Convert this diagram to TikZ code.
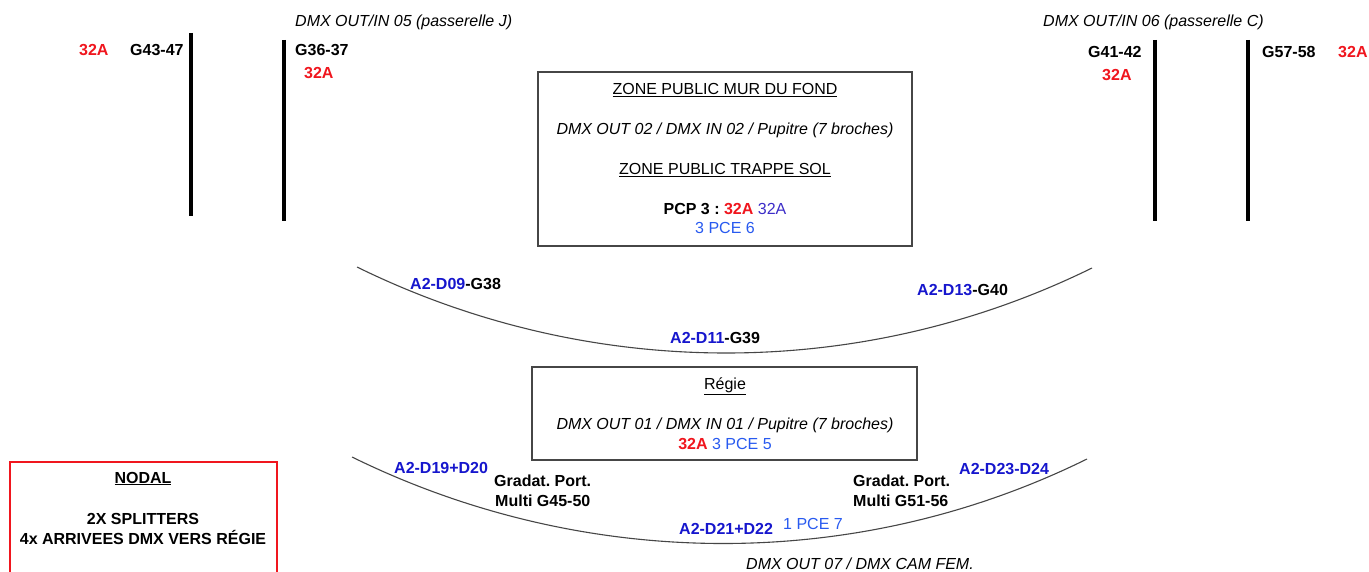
\documentclass[tikz,border=0pt]{standalone}
\usepackage{fontspec}
\setmainfont{Liberation Sans}
\frenchspacing
\definecolor{cred}{RGB}{240,22,30}
\definecolor{cblue}{RGB}{22,22,205}
\definecolor{cpurple}{RGB}{60,45,200}
\definecolor{clight}{RGB}{40,90,240}
\definecolor{cline}{RGB}{70,70,70}
\tikzset{
  txt/.style={inner sep=0pt, anchor=base west, font=\fontsize{16}{19}\selectfont},
  ctxt/.style={txt, anchor=base},
  bar/.style={line width=4pt, black},
  boxframe/.style={draw=cline, line width=1.1pt},
  arcline/.style={draw=cline, line width=1.1pt},
}
\begin{document}
\frenchspacing
\begin{tikzpicture}[x=1pt,y=-1pt]
\useasboundingbox[fill=white] (0,0) rectangle (1369,572);

% ---- left top
\node[txt] (ra1) at (79,56) {\bfseries\color{cred}32A};
\node[txt] (g4347) at (130,56) {\bfseries G43-47};
\coordinate (b1t) at (191,33); \coordinate (b1b) at (191,216);
\draw[bar] (b1t) -- (b1b);
\coordinate (b2t) at (284,40); \coordinate (b2b) at (284,221);
\draw[bar] (b2t) -- (b2b);
\node[txt] (g3637) at (295,56) {\bfseries G36-37};
\node[txt] (ra2) at (304,79) {\bfseries\color{cred}32A};
\node[txt] (dmx05) at (295,27) {\itshape DMX OUT/IN 05 (passerelle J)};

% ---- right top
\node[txt] (dmx06) at (1043,27) {\itshape DMX OUT/IN 06 (passerelle C)};
\node[txt] (g4142) at (1088,58) {\bfseries G41-42};
\node[txt] (ra3) at (1102,81) {\bfseries\color{cred}32A};
\coordinate (b3t) at (1155,40); \coordinate (b3b) at (1155,221);
\draw[bar] (b3t) -- (b3b);
\coordinate (b4t) at (1248,40); \coordinate (b4b) at (1248,221);
\draw[bar] (b4t) -- (b4b);
\node[txt] (g5758) at (1262,58) {\bfseries G57-58};
\node[txt] (ra4) at (1338,58) {\bfseries\color{cred}32A};

% ---- zone public box
\draw[boxframe] (538,72) rectangle (912,246);
\node[ctxt] (zmf) at (725,95) {\underline{ZONE PUBLIC MUR DU FOND}};
\node[ctxt] (dmx02) at (725,135) {\itshape DMX OUT 02 / DMX IN 02 / Pupitre (7 broches)};
\node[ctxt] (zts) at (725,175) {\underline{ZONE PUBLIC TRAPPE SOL}};
\node[ctxt] (pcp3) at (725,215) {\textbf{PCP 3 : }\textbf{\color{cred}32A} {\color{cpurple}32A}};
\node[ctxt] (pce6) at (725,234) {\color{clight}3 PCE 6};

% ---- upper arc
\coordinate (ua1) at (357,267);
\coordinate (uc1) at (589,381);
\coordinate (uc2) at (860,382);
\coordinate (ua2) at (1092,268);
\draw[arcline] (ua1) .. controls (uc1) and (uc2) .. (ua2);
\node[txt] (d09) at (410,290) {\bfseries{\color{cblue}A2-D09}-G38};
\node[txt] (d13) at (917,295) {\bfseries{\color{cblue}A2-D13}-G40};
\node[txt] (d11) at (670,343) {\bfseries{\color{cblue}A2-D11}-G39};

% ---- regie box
\draw[boxframe] (532,367) rectangle (917,460);
\node[ctxt] (regie) at (725,389) {\underline{Régie}};
\node[ctxt] (dmx01) at (725,429) {\itshape DMX OUT 01 / DMX IN 01 / Pupitre (7 broches)};
\node[ctxt] (pce5) at (725,449) {\textbf{\color{cred}32A} {\color{clight}3 PCE 5}};

% ---- lower arc
\coordinate (la1) at (352,457);
\coordinate (lc1) at (584,571);
\coordinate (lc2) at (856,573);
\coordinate (la2) at (1087,459);
\draw[arcline] (la1) .. controls (lc1) and (lc2) .. (la2);
\node[txt] (d19) at (394,473) {\bfseries\color{cblue}A2-D19+D20};
\node[txt] (gp1) at (494,486) {\bfseries Gradat. Port.};
\node[txt] (gp1b) at (495,506) {\bfseries Multi G45-50};
\node[txt] (gp2) at (853,486) {\bfseries Gradat. Port.};
\node[txt] (gp2b) at (853,506) {\bfseries Multi G51-56};
\node[txt] (d23) at (959,474) {\bfseries\color{cblue}A2-D23-D24};
\node[txt] (d21) at (679,534) {\bfseries\color{cblue}A2-D21+D22};
\node[txt] (pce7) at (783,529) {\color{clight}1 PCE 7};
\node[txt] (dmx07) at (746,569) {\itshape DMX OUT 07 / DMX CAM FEM.};

% ---- nodal box
\begin{scope}
\clip (0,0) rectangle (1369,572);
\draw[draw=cred, line width=2pt] (10,462) rectangle (277,600);
\end{scope}
\node[ctxt] (nodal) at (143,483) {\bfseries\underline{NODAL}};
\node[ctxt] (split) at (143,524) {\bfseries 2X SPLITTERS};
\node[ctxt] (arr) at (143,544) {\bfseries 4x ARRIVEES DMX VERS RÉGIE};
\end{tikzpicture}
\end{document}
